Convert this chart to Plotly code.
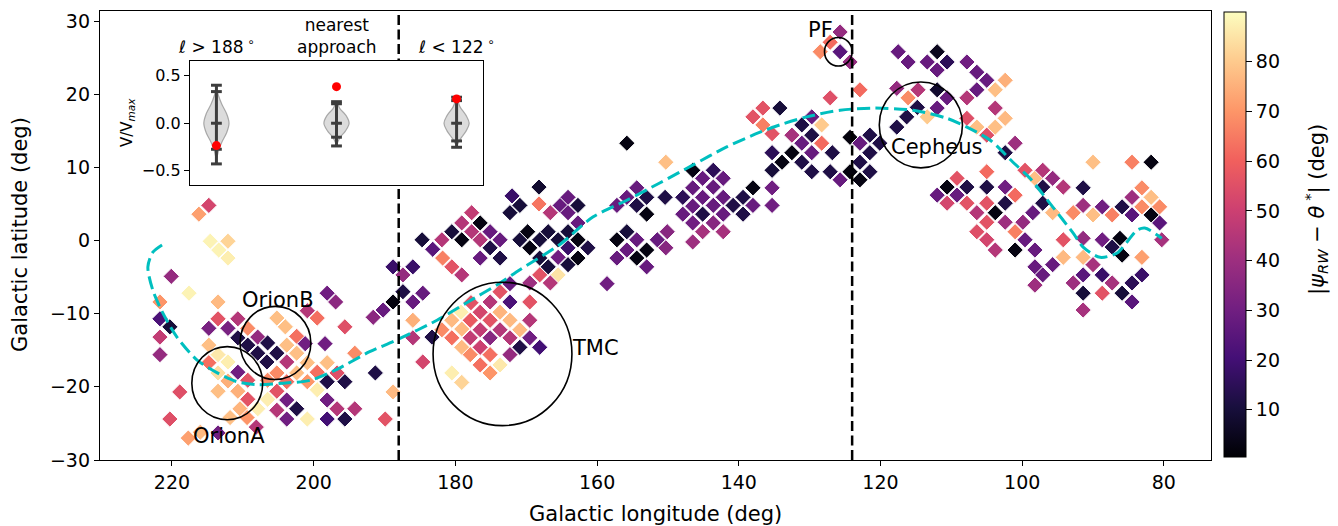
import plotly.graph_objects as go

FONT = "DejaVu Sans"

# ---------------- main map data (Galactic l, b in deg; angle difference in deg) -------------
lon_w = [214.8, 216.2, 214.6, 212.1, 213.4, 212.1, 220.1, 217.6, 221.7, 213.5, 221.7, 220.3, 221.7, 221.7, 218.9, 220.3, 217.7]
lat_w = [4.8, 3.6, -0.1, -0.1, -1.3, -2.4, -4.9, -7.2, -8.4, -8.4, -10.7, -11.8, -13.2, -15.6, -20.7, -24.4, -27.0]
ang_w = [52, 72, 88, 82, 88, 87, 38, 88, 70, 77, 22, 10, 48, 38, 55, 55, 72]

lon_o = [213.5, 210.7, 205.2, 199.5, 200.9, 196.9, 198.1, 214.8, 212.1, 209.3, 204.0, 195.6, 210.7, 207.9, 202.4,
         214.8, 209.3, 206.5, 203.8, 201.2, 198.4, 213.5, 207.9, 205.2, 202.4, 194.2, 214.8, 212.1, 206.6, 203.8,
         200.9, 198.1, 213.5, 210.7, 205.2, 202.4, 199.5, 196.7, 191.3, 212.1, 209.3, 206.5, 203.8, 200.9, 198.1,
         195.6, 213.5, 210.7, 205.2, 199.5, 188.8, 209.3, 206.5, 203.8, 198.1, 210.4, 207.9, 205.2, 202.4, 196.7,
         194.2, 211.8, 209.4, 203.8, 200.9, 198.1, 195.6, 189.9, 208.1, 216.0, 213.5]
lat_o = [-10.7, -10.7, -10.6, -10.6, -9.6, -8.4, -7.2, -12.0, -12.0, -12.0, -11.8, -11.8, -13.3, -13.2, -13.1,
         -14.3, -14.3, -14.0, -14.3, -14.1, -14.1, -15.6, -15.4, -15.4, -15.4, -15.4, -16.7, -16.6, -16.6, -16.6,
         -16.7, -16.7, -18.1, -18.0, -18.1, -18.1, -18.0, -18.1, -18.1, -19.2, -19.1, -19.1, -19.3, -19.3, -19.3,
         -19.3, -20.6, -20.6, -20.6, -20.4, -20.7, -21.7, -21.7, -21.8, -21.8, -23.0, -23.0, -23.2, -23.0, -23.0,
         -23.0, -24.2, -24.2, -24.4, -24.4, -24.4, -24.4, -24.4, -25.5, -26.2, -26.3]
ang_o = [56, 45, 78, 63, 45, 36, 30, 32, 32, 68, 78, 55, 12, 38, 63,
         78, 12, 12, 78, 30, 30, 86, 12, 12, 78, 68, 63, 87, 12, 45,
         78, 78, 84, 30, 68, 78, 63, 55, 12, 75, 56, 68, 63, 70, 12,
         12, 78, 75, 56, 87, 77, 56, 87, 30, 30, 76, 87, 45, 12, 45,
         45, 78, 70, 30, 87, 20, 12, 56, 45, 77, 30]

lon_m = [191.6, 190.2, 188.8, 188.8, 187.4, 186.0, 187.4, 186.0, 184.6, 186.0, 186.0, 183.3, 184.6,
         184.7, 183.2, 181.9, 180.5, 179.1, 179.1, 181.8, 180.5, 179.1,
         177.7, 176.5, 177.7, 175.1, 176.5, 173.7, 175.1, 176.5, 173.7,
         172.0, 170.9, 172.3, 168.2, 168.2, 166.6, 165.2, 164.1, 164.1,
         170.9, 169.8, 169.5, 168.1, 166.9, 165.5, 164.1, 168.1, 166.9, 165.5, 164.1, 164.1,
         165.5, 168.1, 166.6, 169.5, 172.3]
lat_m = [-10.5, -9.5, -8.4, -3.6, -4.7, -3.6, -7.0, -8.4, -7.2, -10.9, -13.3, -13.2, -16.6,
         0.1, -1.2, 0.1, 1.2, 0.1, 2.4, -2.4, -3.6, -4.7,
         3.8, 2.4, 1.2, 1.2, 0.1, 0.1, -1.0, -2.4, -2.4,
         6.1, 4.8, 3.8, 7.3, 5.0, 3.8, 4.8, 5.9, 3.8,
         0.1, 1.2, -1.0, 0.1, 1.2, 0.1, 1.2, -2.4, -3.6, -2.3, -1.0, -3.3,
         -4.7, -4.7, -5.8, -5.8, -5.9]
ang_m = [36, 28, 2, 18, 38, 18, 12, 28, 28, 75, 45, 12, 52,
         10, 25, 45, 10, 3, 45, 66, 56, 45,
         48, 3, 45, 28, 45, 28, 12, 28, 12,
         18, 10, 10, 8, 64, 45, 28, 28, 28,
         10, 3, 3, 10, 10, 10, 10, 10, 10, 30, 18, 10,
         85, 56, 45, 40, 28]

lon_t = [173.7, 172.3, 175.1, 177.8, 169.5, 179.2, 176.5, 173.7,
         180.5, 177.9, 175.1, 172.3, 169.5, 181.9, 179.1, 176.5, 173.7, 170.9,
         180.5, 177.9, 175.1, 172.3, 169.5, 179.1, 176.5, 170.9, 168.1,
         177.9, 175.1, 172.3, 176.5, 173.7, 175.1, 180.5, 179.1]
lat_t = [-7.0, -8.4, -8.4, -8.5, -8.4, -9.8, -9.8, -9.8,
         -10.9, -10.9, -10.9, -10.9, -10.9, -12.2, -12.1, -12.2, -12.2, -12.2,
         -13.3, -13.3, -13.3, -13.3, -13.3, -14.6, -14.6, -14.6, -14.6,
         -15.6, -15.6, -15.6, -17.0, -17.0, -18.1, -18.1, -19.4]
ang_t = [56, 22, 45, 56, 56, 87, 52, 76,
         77, 58, 56, 77, 45, 68, 77, 48, 45, 77,
         63, 48, 35, 45, 30, 77, 50, 12, 20,
         68, 63, 38, 63, 86, 70, 87, 82]

lon_c = [155.8, 150.3, 146.5, 145.1, 143.6, 142.2, 143.6, 146.5, 147.9, 145.1, 142.2, 140.8, 139.4,
         138.0, 138.0, 143.6, 146.5, 147.9, 145.1, 142.2, 139.4, 146.5, 143.6, 145.1, 142.2, 146.5,
         135.3, 135.3, 135.3, 135.3, 133.9, 138.0, 136.6, 136.6, 135.3, 134.2,
         162.7, 162.7, 162.7, 161.3, 162.7,
         158.6, 157.2, 155.8, 154.4, 155.8, 157.2, 154.4, 153.0, 151.5, 150.1, 150.3, 153.0,
         157.2, 155.8, 154.4, 154.4, 153.0, 153.0, 150.4]
lat_c = [13.3, 10.7, 9.6, 8.5, 9.6, 8.5, 7.3, 7.2, 5.9, 5.9, 5.9, 4.8, 5.9,
         7.2, 4.8, 4.8, 4.7, 3.6, 3.6, 3.6, 3.6, 2.4, 2.4, 1.2, 1.2, -0.2,
         7.2, 4.8, 9.6, 12.0, 10.7, 16.9, 18.1, 15.8, 14.6, 18.1,
         4.8, 2.4, 0.1, -1.0, -2.4,
         -5.9, 0.1, 1.2, 0.1, -1.3, -2.4, -2.4, -1.3, 0.1, 1.2, -1.0, -3.6,
         4.8, 5.9, 7.2, 4.8, 5.9, 3.6, 5.9]
ang_c = [3, 78, 3, 28, 15, 28, 28, 28, 15, 28, 28, 12, 12,
         3, 28, 28, 28, 28, 12, 28, 12, 30, 35, 42, 42, 40,
         30, 30, 10, 15, 3, 56, 56, 66, 56, 10,
         10, 28, 3, 12, 3,
         30, 3, 10, 28, 28, 28, 3, 3, 28, 35, 35, 28,
         28, 28, 28, 12, 12, 3, 12]

lon_p = [125.7, 127.1, 128.5, 125.7, 124.3, 122.9, 127.1,
         129.7, 131.1, 128.3, 132.5, 129.7, 131.1, 128.3,
         132.5, 129.7, 126.8, 131.1, 129.7, 127.1, 125.7,
         124.3, 124.3, 122.9, 121.5, 120.1, 122.9, 121.5, 121.5, 122.9,
         117.5, 116.1, 113.4, 112.0, 112.0,
         117.7, 114.7, 116.1, 112.0, 114.8, 116.3, 117.7, 113.4]
lat_p = [28.5, 27.1, 25.8, 25.8, 24.4, 20.6, 19.5,
         16.9, 15.8, 15.8, 14.4, 14.4, 13.3, 13.3,
         12.0, 12.0, 12.0, 10.7, 9.4, 9.4, 8.3,
         14.1, 9.4, 13.3, 14.4, 13.3, 10.7, 12.0, 9.4, 8.3,
         25.8, 24.4, 24.4, 25.8, 23.3,
         20.8, 20.6, 19.5, 20.6, 18.2, 16.9, 15.5, 16.9]
ang_p = [38, 62, 68, 25, 38, 62, 55,
         28, 12, 80, 42, 12, 28, 62,
         3, 28, 12, 12, 12, 12, 28,
         2, 2, 28, 12, 12, 12, 12, 12, 3,
         28, 28, 28, 5, 28,
         38, 45, 68, 8, 12, 12, 12, 80]

lon_e = [110.6, 107.8, 106.4, 105.0, 102.4, 103.8, 106.4, 107.8, 110.6, 112.0,
         107.8, 106.4, 103.8, 102.4, 103.8, 105.0, 101.0, 102.4,
         105.0, 99.6, 98.2, 97.1, 95.7, 97.1, 94.2,
         95.7, 92.8, 97.1, 98.5, 99.9, 102.4, 103.8, 102.4, 101.0, 102.4, 105.0, 107.8, 109.2, 110.6,
         112.0, 109.2, 110.6, 107.8, 106.4, 105.0, 105.0,
         106.4, 105.0, 103.8, 101.0, 99.6, 101.0, 98.2, 98.2, 97.1, 98.2]
lat_e = [24.4, 24.4, 23.0, 21.9, 21.9, 20.6, 20.6, 19.5, 19.5, 18.1,
         16.7, 15.5, 18.1, 16.7, 15.5, 14.4, 13.3, 12.0,
         9.4, 9.6, 8.5, 9.6, 8.5, 7.3, 7.3,
         3.8, 3.8, 5.1, 3.8, 2.5, 2.5, 3.8, 5.1, 6.2, 7.3, 7.3, 7.3, 8.5, 7.3,
         6.2, 6.2, 5.1, 5.1, 3.8, 5.1, 2.5,
         1.2, 0.1, -1.3, 1.2, 0.1, -1.3, -1.3, -3.6, -4.7, -6.1]
ang_e = [15, 30, 28, 28, 75, 78, 28, 45, 28, 28,
         55, 78, 45, 77, 78, 55, 40, 12,
         62, 56, 78, 45, 38, 12, 45,
         77, 68, 12, 28, 38, 40, 3, 12, 62, 30, 12, 12, 56, 3,
         28, 28, 52, 56, 45, 56, 56,
         55, 52, 45, 66, 28, 3, 28, 28, 28, 40]

lon_x = [90.0, 84.5, 81.8, 91.4, 83.1, 84.5, 81.8,
         91.4, 90.0, 88.7, 87.3, 85.9, 84.5, 83.1, 81.8, 80.6, 80.6,
         94.2, 91.4, 88.7, 86.2, 87.3, 85.9, 94.2, 91.4, 90.0,
         92.8, 91.4, 91.4, 88.7, 87.3, 88.7, 85.9, 84.5, 83.1, 84.5, 83.1, 91.4, 80.3, 95.7]
lat_x = [10.7, 10.7, 10.7, 7.2, 7.2, 5.9, 5.9,
         4.8, 3.5, 4.6, 3.5, 4.6, 3.5, 4.6, 3.5, 4.6, 2.4,
         0.1, 0.3, 0.1, 0.3, -0.9, -2.0, -2.3, -2.3, -3.3,
         -5.8, -4.7, -7.2, -4.7, -5.8, -7.2, -7.2, -5.8, -4.7, -8.4, -2.3, -9.5, 0.1, -3.3]
ang_x = [78, 66, 3, 12, 68, 40, 78,
         40, 78, 30, 66, 12, 25, 68, 3, 68, 25,
         56, 38, 30, 3, 12, 3, 77, 77, 42,
         40, 25, 10, 18, 42, 56, 10, 15, 18, 25, 72, 42, 42, 28]

# dashed model curve
curve_l = [221.4, 222.7, 223.4, 222.7, 221.3, 219.3, 216.5, 213.6, 210.8, 208.0, 204.3, 200.5, 196.7, 192.1,
           188.3, 182.6, 178.4, 173.7, 170.9, 165.2, 160.6, 155.8, 151.1, 146.5, 141.7, 137.0, 134.2, 130.4,
           125.7, 121.1, 115.4, 110.6, 107.8, 104.5, 101.3, 98.9, 95.7, 92.8, 91.4, 89.0, 86.6, 85.2, 83.8,
           82.7, 81.0, 80.3]
curve_b = [-0.6, -1.6, -3.6, -6.8, -9.9, -13.2, -16.3, -18.1, -19.3, -19.7, -19.5, -19.1, -17.6, -15.2,
           -13.6, -10.9, -8.5, -5.8, -4.0, -0.5, 3.2, 5.5, 7.9, 10.3, 12.8, 14.8, 15.8, 16.9,
           17.8, 18.1, 17.8, 16.7, 15.5, 13.7, 10.7, 8.5, 4.6, 1.0, -0.9, -2.3, -1.7, -0.2, 1.4,
           1.7, 0.8, 0.3]

# split longitudes
split_l = [188.0, 124.0]

# cloud circles and labels
cloud_names = ["OrionA", "OrionB", "TMC", "PF", "Cepheus"]
circ_l = [212.2, 205.4, 173.35, 125.95, 114.3]
circ_b = [-19.5, -14.0, -15.5, 25.8, 15.8]
circ_r = [5.0, 5.0, 9.8, 1.95, 5.87]
label_l = [212.0, 205.1, 160.2, 128.5, 112.1]
label_b = [-26.7, -8.1, -14.7, 28.8, 12.8]

# inset: normalised V/Vmax
v_pos = [1, 2, 3]
v_labels = ["ℓ > 188<sup> ∘</sup>", "nearest<br>approach", "ℓ < 122<sup> ∘</sup>"]
v_max = [0.40, 0.227, 0.274]
v_qhi = [0.333, 0.205, 0.238]
v_med = [0.0, 0.0, 0.0]
v_qlo = [-0.274, -0.147, -0.186]
v_min = [-0.428, -0.239, -0.253]
v_obs = [-0.235, 0.385, 0.256]
prof_v = [[0.38, 0.30, 0.20, 0.10, 0.0, -0.10, -0.20, -0.30, -0.40],
          [0.21, 0.15, 0.08, 0.0, -0.08, -0.15, -0.23],
          [0.25, 0.17, 0.08, 0.0, -0.08, -0.16, -0.24]]
prof_w = [[0.0, 0.015, 0.045, 0.085, 0.105, 0.085, 0.045, 0.015, 0.0],
          [0.0, 0.03, 0.08, 0.105, 0.075, 0.03, 0.0],
          [0.0, 0.03, 0.08, 0.105, 0.08, 0.035, 0.0]]

lon = lon_w + lon_o + lon_m + lon_t + lon_c + lon_p + lon_e + lon_x
lat = lat_w + lat_o + lat_m + lat_t + lat_c + lat_p + lat_e + lat_x
ang = ang_w + ang_o + ang_m + ang_t + ang_c + ang_p + ang_e + ang_x

XR = [230.16, 73.35]
YR = [-30.0, 31.37]
IXR = [0.78, 3.22]
IYR = [-0.65, 0.655]

fig = go.Figure()

fig.add_trace(go.Scatter(
    x=lon, y=lat, mode="markers", hoverinfo="skip", showlegend=False,
    marker=dict(symbol="diamond", size=12.5, color=ang, colorscale="Magma", cmin=0.5, cmax=90,
                line=dict(color="white", width=1),
                colorbar=dict(x=1.0117, xanchor="left", xpad=0, y=0.5022, yanchor="middle", ypad=0,
                              len=0.991, lenmode="fraction", thickness=22, thicknessmode="pixels",
                              outlinewidth=1, outlinecolor="black",
                              tickvals=[10, 20, 30, 40, 50, 60, 70, 80], ticks="outside", ticklen=6,
                              tickwidth=1, tickcolor="black",
                              tickfont=dict(family=FONT, size=19, color="black")))))

fig.add_trace(go.Scatter(x=curve_l, y=curve_b, mode="lines", hoverinfo="skip", showlegend=False,
                         line=dict(color="#00bfbf", width=3, dash="13px,5.5px", shape="spline", smoothing=0.8)))

for sl in split_l:
    fig.add_trace(go.Scatter(x=[sl, sl], y=YR, mode="lines", hoverinfo="skip", showlegend=False,
                             line=dict(color="black", width=2.5, dash="10px,4.5px")))

# ---- inset ----
fig.add_trace(go.Scatter(x=[IXR[0], IXR[1], IXR[1], IXR[0], IXR[0]], y=[IYR[0], IYR[0], IYR[1], IYR[1], IYR[0]],
                         xaxis="x2", yaxis="y2", mode="lines", fill="toself", fillcolor="white",
                         line=dict(width=0, color="white"), hoverinfo="skip", showlegend=False))
for i, p in enumerate(v_pos):
    xs = [p + w for w in prof_w[i]] + [p - w for w in prof_w[i][::-1]]
    ys = prof_v[i] + prof_v[i][::-1]
    fig.add_trace(go.Scatter(x=xs, y=ys, xaxis="x2", yaxis="y2", mode="lines", fill="toself",
                             fillcolor="rgba(191,191,191,0.55)",
                             line=dict(color="rgba(150,150,150,0.8)", width=1.2, shape="spline"),
                             hoverinfo="skip", showlegend=False))
cap = 0.045
ex, ey = [], []
for i, p in enumerate(v_pos):
    ex += [p, p, None]
    ey += [v_min[i], v_max[i], None]
    for v in (v_max[i], v_qhi[i], v_med[i], v_qlo[i], v_min[i]):
        ex += [p - cap, p + cap, None]
        ey += [v, v, None]
fig.add_trace(go.Scatter(x=ex, y=ey, xaxis="x2", yaxis="y2", mode="lines",
                         line=dict(color="#3d3d3d", width=3), hoverinfo="skip", showlegend=False))
fig.add_trace(go.Scatter(x=v_pos, y=v_obs, xaxis="x2", yaxis="y2", mode="markers",
                         marker=dict(color="red", size=9), hoverinfo="skip", showlegend=False))

shapes = []
for cl, cb, r in zip(circ_l, circ_b, circ_r):
    shapes.append(dict(type="circle", xref="x", yref="y", x0=cl - r, x1=cl + r, y0=cb - r, y1=cb + r,
                       line=dict(color="black", width=1.6), layer="above"))

ann = []
for name, tl, tb in zip(cloud_names, label_l, label_b):
    ann.append(dict(x=tl, y=tb, xref="x", yref="y", text=name, showarrow=False,
                    font=dict(family=FONT, size=21, color="black"), xanchor="center", yanchor="middle"))

H = 449.0
def py(p):
    return (460 - p) / H
def px(p):
    return (p - 100) / 1111.0

ann.append(dict(x=0.5, y=py(514), xref="paper", yref="paper", text="Galactic longitude (deg)", showarrow=False,
                font=dict(family=FONT, size=21, color="black"), xanchor="center", yanchor="middle"))
ann.append(dict(x=px(20), y=py(235), xref="paper", yref="paper", text="Galactic latitude (deg)", showarrow=False,
                textangle=-90, font=dict(family=FONT, size=21, color="black"), xanchor="center", yanchor="middle"))
ann.append(dict(x=px(1316), y=py(210), xref="paper", yref="paper",
                text="|<i>ψ</i><sub><i>RW</i></sub> − <i>θ</i><sup> *</sup>| (deg)", showarrow=False,
                textangle=-90, font=dict(family=FONT, size=21, color="black"), xanchor="center", yanchor="middle"))
ann.append(dict(x=px(127), y=py(123), xref="paper", yref="paper", text="V/V<sub><i>max</i></sub>", showarrow=False,
                textangle=-90, font=dict(family=FONT, size=15, color="black"), xanchor="center", yanchor="middle"))
for p, t in zip(v_pos, v_labels):
    ann.append(dict(x=p, y=py(59), xref="x2", yref="paper", text=t, showarrow=False,
                    font=dict(family=FONT, size=17, color="black"), xanchor="center", yanchor="bottom"))

axis_common = dict(showgrid=False, zeroline=False, showline=True, mirror=True, linecolor="black", linewidth=1.3,
                   ticks="outside", ticklen=5, tickwidth=1.3, tickcolor="black",
                   tickfont=dict(family=FONT, size=19, color="black"))

fig.update_layout(
    width=1338, height=526, margin=dict(l=100, r=127, t=11, b=66),
    paper_bgcolor="white", plot_bgcolor="white", showlegend=False,
    font=dict(family=FONT, color="black"),
    xaxis=dict(range=XR, tickvals=[220, 200, 180, 160, 140, 120, 100, 80], domain=[0, 1], **axis_common),
    yaxis=dict(range=YR, tickvals=[-30, -20, -10, 0, 10, 20, 30], domain=[0, 1], **axis_common),
    xaxis2=dict(domain=[px(190), px(483)], range=IXR, anchor="y2", showgrid=False, zeroline=False,
                showline=True, mirror=True, linecolor="black", linewidth=1.3, showticklabels=False, ticks=""),
    yaxis2=dict(domain=[py(185), py(61)], range=IYR, anchor="x2", showgrid=False, zeroline=False,
                showline=True, mirror=True, linecolor="black", linewidth=1.3,
                tickvals=[-0.5, 0.0, 0.5], ticktext=["−0.5", "0.0", "0.5"], ticks="outside", ticklen=5,
                tickwidth=1.2, tickcolor="black", tickfont=dict(family=FONT, size=16, color="black")),
    shapes=shapes, annotations=ann,
)

fig.write_html("out.html")
